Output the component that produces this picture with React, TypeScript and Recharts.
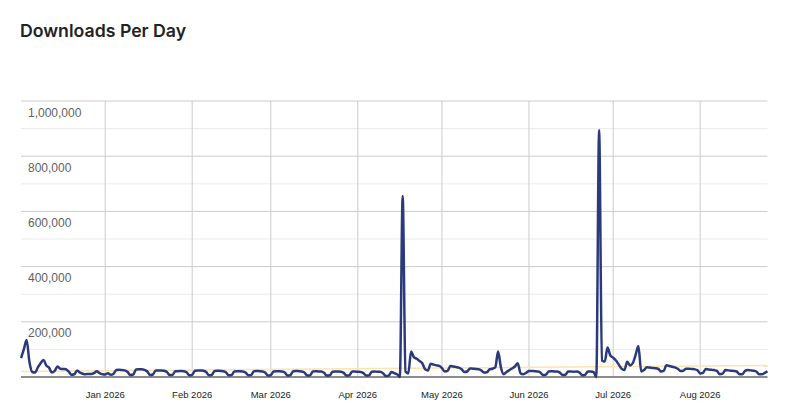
import {
  LineChart,
  Line,
  XAxis,
  YAxis,
  ReferenceLine,
} from "recharts";

// daily downloads, one array per month (starts Tue 2 Dec 2025)
const dec2025 = [
  68000, 100000, 134000, 55000, 18000, 16000, 35000, 50000, 62000, 42000,
  34000, 16000, 22000, 38000, 30000, 29000, 28000, 20000, 8000, 10000,
  24000, 16000, 12000, 10000, 11000, 11000, 14000, 21000, 14000, 10000,
];
const jan2026 = [
  9000, 14000, 8000, 12000, 25000, 26000, 25000, 24000, 18000, 7000,
  9000, 27000, 28000, 28000, 26000, 20000, 7000, 9000, 24000, 24000,
  24000, 23000, 18000, 7000, 8000, 21000, 21000, 22000, 21000, 17000,
  6000,
];
const feb2026 = [
  8000, 23000, 24000, 24000, 23000, 18000, 6000, 8000, 22000, 23000,
  22000, 21000, 17000, 6000, 7000, 20000, 21000, 21000, 20000, 16000,
  6000, 7000, 21000, 22000, 21000, 20000, 16000, 5000,
];
const mar2026 = [
  7000, 20000, 21000, 21000, 20000, 16000, 5000, 7000, 21000, 22000,
  21000, 20000, 16000, 5000, 6000, 20000, 21000, 20000, 20000, 15000,
  5000, 6000, 19000, 20000, 20000, 19000, 15000, 5000, 6000, 20000,
  20000,
];
const apr2026 = [
  19000, 18000, 14000, 5000, 6000, 19000, 20000, 19000, 19000, 14000,
  4000, 5000, 18000, 14000, 10000, 0, 656000, 20000, 13000, 92000,
  72000, 66000, 58000, 50000, 28000, 24000, 48000, 45000, 42000, 40000,
];
const may2026 = [
  32000, 20000, 22000, 40000, 38000, 36000, 34000, 28000, 18000, 20000,
  31000, 30000, 29000, 28000, 24000, 16000, 17000, 28000, 30000, 35000,
  92000, 35000, 10000, 18000, 25000, 31000, 38000, 50000, 13000, 10000,
  15000,
];
const jun2026 = [
  22000, 22000, 21000, 20000, 17000, 7000, 8000, 20000, 21000, 20000,
  20000, 16000, 7000, 8000, 20000, 20000, 19000, 20000, 16000, 6000,
  8000, 20000, 20000, 18000, 0, 895000, 60000, 56000, 107000, 78000,
];
const jul2026 = [
  70000, 60000, 45000, 30000, 25000, 55000, 42000, 50000, 80000, 112000,
  20000, 25000, 35000, 34000, 33000, 32000, 30000, 20000, 22000, 43000,
  40000, 37000, 35000, 30000, 22000, 23000, 30000, 30000, 29000, 28000,
  25000,
];
const aug2026 = [
  13000, 15000, 29000, 27000, 26000, 25000, 22000, 10000, 12000, 25000,
  24000, 23000, 22000, 20000, 10000, 10000, 22000, 25000, 24000, 23000,
  20000, 10000, 10000, 15000, 20000,
];

const firstDay = "2025-12-02";
const monthTicks = [
  "2026-01-01",
  "2026-02-01",
  "2026-03-01",
  "2026-04-01",
  "2026-05-01",
  "2026-06-01",
  "2026-07-01",
  "2026-08-01",
];
const monthLabels = [
  "Jan 2026",
  "Feb 2026",
  "Mar 2026",
  "Apr 2026",
  "May 2026",
  "Jun 2026",
  "Jul 2026",
  "Aug 2026",
];
const yTicks = [0, 200000, 400000, 600000, 800000, 1000000];
const yMinor = [100000, 300000, 500000, 700000, 900000];
const trendEnds = [20000, 42000];

const values = [
  ...dec2025,
  ...jan2026,
  ...feb2026,
  ...mar2026,
  ...apr2026,
  ...may2026,
  ...jun2026,
  ...jul2026,
  ...aug2026,
];

const start = new Date(firstDay + "T00:00:00Z").getTime();
const data = values.map((downloads, i) => ({
  date: new Date(start + i * 86400000).toISOString().slice(0, 10),
  downloads,
}));

const renderYTick = (props: any) => {
  const { x, y, payload } = props;
  if (payload.value === 0) return <g />;
  return (
    <text
      x={x + 3}
      y={y}
      dy={15.5}
      textAnchor="start"
      fill="#5f5f5f"
      fontSize={12}
      fontFamily="'Liberation Sans', Arial, sans-serif"
    >
      {Number(payload.value).toLocaleString("en-US")}
    </text>
  );
};

export default function App() {
  return (
    <div
      style={{
        position: "absolute",
        left: 0,
        top: 0,
        width: 800,
        height: 418,
        background: "#fff",
      }}
    >
      <div
        style={{
          position: "absolute",
          left: 20,
          top: 21,
          fontFamily: "Inter, 'Noto Sans', sans-serif",
          fontWeight: 600,
          fontSize: 17.7,
          lineHeight: "20px",
          color: "#222",
        }}
      >
        Downloads Per Day
      </div>
      <LineChart
        width={800}
        height={418}
        data={data}
        margin={{ top: 101, right: 32.5, bottom: 11, left: 21 }}
      >
        {yMinor.map((v) => (
          <ReferenceLine key={v} y={v} stroke="#ebebeb" strokeWidth={1} />
        ))}
        {yTicks.map((v) => (
          <ReferenceLine key={"g" + v} y={v} stroke="#cccccc" strokeWidth={1} />
        ))}
        {monthTicks.map((d) => (
          <ReferenceLine key={d} x={d} stroke="#cccccc" strokeWidth={1} />
        ))}
        <XAxis
          dataKey="date"
          ticks={monthTicks}
          interval={0}
          tickFormatter={(d: string) => monthLabels[monthTicks.indexOf(d)]}
          tickLine={false}
          axisLine={{ stroke: "#333", strokeWidth: 1 }}
          tickMargin={8}
          height={30}
          tick={{
            fontSize: 9.5,
            fill: "#222",
            fontFamily: "'Liberation Sans', Arial, sans-serif",
          }}
        />
        <YAxis
          domain={[0, 1000000]}
          ticks={yTicks}
          mirror
          width={60}
          axisLine={false}
          tickLine={false}
          tickSize={0}
          tickMargin={4}
          tick={renderYTick}
        />
        <ReferenceLine
          segment={[
            { x: data[0].date, y: trendEnds[0] },
            { x: data[data.length - 1].date, y: trendEnds[1] },
          ]}
          stroke="#fde3b0"
          strokeWidth={1.5}
        />
        <Line
          type="monotone"
          dataKey="downloads"
          stroke="#2b3a7c"
          strokeWidth={2.5}
          dot={false}
          isAnimationActive={false}
        />
      </LineChart>
    </div>
  );
}
